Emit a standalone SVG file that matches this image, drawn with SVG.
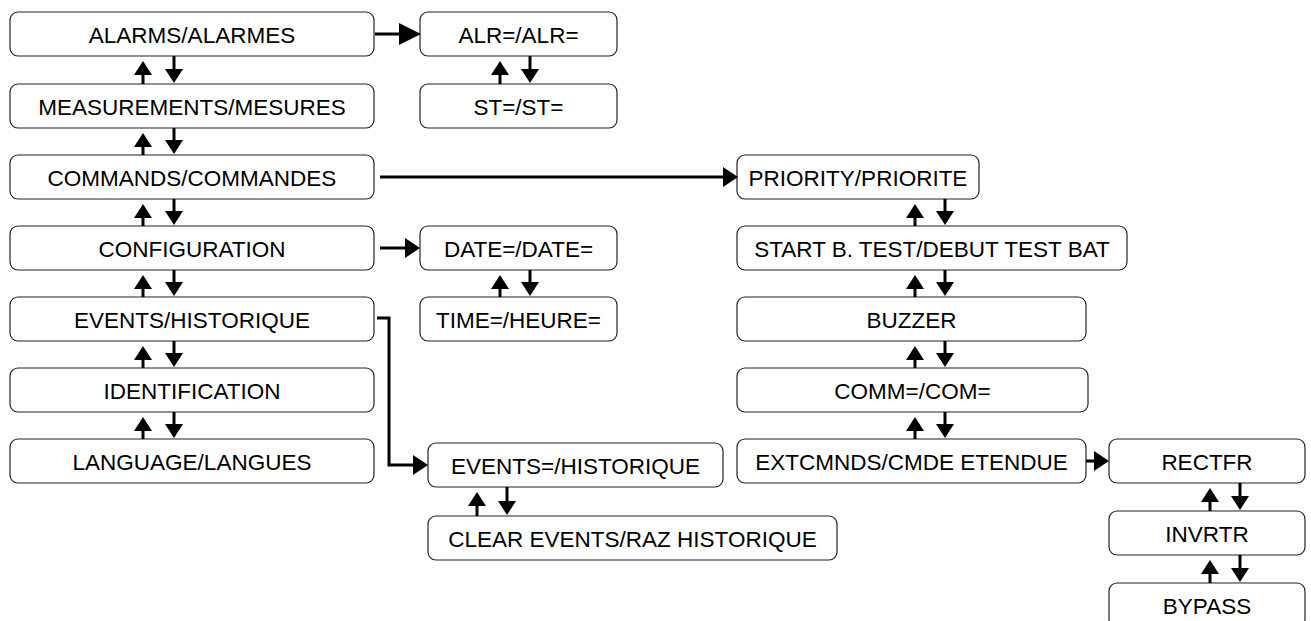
<svg xmlns="http://www.w3.org/2000/svg" width="1311" height="621" viewBox="0 0 1311 621">
<style>
.b{fill:#fff;stroke:#222;stroke-width:1.2}
.t{font-family:"Liberation Sans",Arial,sans-serif;font-size:22.5px;fill:#000;text-anchor:middle}
.c{stroke:#000;stroke-width:3;fill:none}
</style>
<defs>
<marker id="ah" viewBox="0 0 14 18" refX="1" refY="9" markerWidth="14" markerHeight="18" markerUnits="userSpaceOnUse" orient="auto"><path d="M0,0L14,9L0,18Z" fill="#000"/></marker>
<marker id="ahH" viewBox="0 0 15 20" refX="1" refY="10" markerWidth="15" markerHeight="20" markerUnits="userSpaceOnUse" orient="auto"><path d="M0,0L15,10L0,20Z" fill="#000"/></marker>
<marker id="ahB" viewBox="0 0 22 22" refX="1" refY="11" markerWidth="22" markerHeight="22" markerUnits="userSpaceOnUse" orient="auto"><path d="M0,0L22,11L0,22Z" fill="#000"/></marker>
</defs>
<rect width="1311" height="621" fill="#fff"/>
<g id="alarms"><rect class="b" x="10" y="12" width="364" height="44" rx="8"/><text class="t" x="192" y="43">ALARMS/ALARMES</text></g>
<g id="measurements"><rect class="b" x="10" y="84" width="364" height="44" rx="8"/><text class="t" x="192" y="115">MEASUREMENTS/MESURES</text></g>
<g id="commands"><rect class="b" x="10" y="155" width="364" height="44" rx="8"/><text class="t" x="192" y="186">COMMANDS/COMMANDES</text></g>
<g id="configuration"><rect class="b" x="10" y="226" width="364" height="44" rx="8"/><text class="t" x="192" y="257">CONFIGURATION</text></g>
<g id="events"><rect class="b" x="10" y="297" width="364" height="44" rx="8"/><text class="t" x="192" y="328">EVENTS/HISTORIQUE</text></g>
<g id="identification"><rect class="b" x="10" y="368" width="364" height="44" rx="8"/><text class="t" x="192" y="399">IDENTIFICATION</text></g>
<g id="language"><rect class="b" x="10" y="439" width="364" height="44" rx="8"/><text class="t" x="192" y="470">LANGUAGE/LANGUES</text></g>
<g id="alr"><rect class="b" x="420" y="12" width="197" height="44" rx="8"/><text class="t" x="518.5" y="43">ALR=/ALR=</text></g>
<g id="st"><rect class="b" x="420" y="84" width="197" height="44" rx="8"/><text class="t" x="518.5" y="115">ST=/ST=</text></g>
<g id="date"><rect class="b" x="420" y="226" width="197" height="44" rx="8"/><text class="t" x="518.5" y="257">DATE=/DATE=</text></g>
<g id="time"><rect class="b" x="420" y="297" width="197" height="44" rx="8"/><text class="t" x="518.5" y="328">TIME=/HEURE=</text></g>
<g id="eventseq"><rect class="b" x="428" y="443" width="295" height="44" rx="8"/><text class="t" x="575.5" y="474">EVENTS=/HISTORIQUE</text></g>
<g id="clear"><rect class="b" x="428" y="516" width="409" height="44" rx="8"/><text class="t" x="632.5" y="547">CLEAR EVENTS/RAZ HISTORIQUE</text></g>
<g id="priority"><rect class="b" x="737" y="155" width="242" height="44" rx="8"/><text class="t" x="858" y="186">PRIORITY/PRIORITE</text></g>
<g id="start"><rect class="b" x="737" y="226" width="390" height="44" rx="8"/><text class="t" x="932" y="257">START B. TEST/DEBUT TEST BAT</text></g>
<g id="buzzer"><rect class="b" x="737" y="297" width="349" height="44" rx="8"/><text class="t" x="911.5" y="328">BUZZER</text></g>
<g id="comm"><rect class="b" x="737" y="368" width="351" height="44" rx="8"/><text class="t" x="912.5" y="399">COMM=/COM=</text></g>
<g id="extcmnds"><rect class="b" x="737" y="439" width="349" height="44" rx="8"/><text class="t" x="911.5" y="470">EXTCMNDS/CMDE ETENDUE</text></g>
<g id="rectfr"><rect class="b" x="1109" y="439" width="196" height="44" rx="8"/><text class="t" x="1207" y="470">RECTFR</text></g>
<g id="invrtr"><rect class="b" x="1109" y="511" width="196" height="44" rx="8"/><text class="t" x="1207" y="542">INVRTR</text></g>
<g id="bypass"><rect class="b" x="1109" y="583" width="196" height="44" rx="8"/><text class="t" x="1207" y="614">BYPASS</text></g>
<g id="connectors">
<path class="c" marker-end="url(#ahB)" d="M375,34H400"/>
<path class="c" marker-end="url(#ahH)" d="M380,177H724"/>
<path class="c" marker-end="url(#ahH)" d="M380,248H406"/>
<path class="c" marker-end="url(#ahH)" d="M377,318H389V465H414"/>
<path class="c" marker-end="url(#ahH)" d="M1086,461H1095"/>
<path class="c" marker-end="url(#ah)" d="M143,84V74"/><path class="c" marker-end="url(#ah)" d="M174,56V70"/>
<path class="c" marker-end="url(#ah)" d="M143,155V146"/><path class="c" marker-end="url(#ah)" d="M174,128V141"/>
<path class="c" marker-end="url(#ah)" d="M143,226V217"/><path class="c" marker-end="url(#ah)" d="M174,199V212"/>
<path class="c" marker-end="url(#ah)" d="M143,297V288"/><path class="c" marker-end="url(#ah)" d="M174,270V283"/>
<path class="c" marker-end="url(#ah)" d="M143,368V359"/><path class="c" marker-end="url(#ah)" d="M174,341V354"/>
<path class="c" marker-end="url(#ah)" d="M143,439V430"/><path class="c" marker-end="url(#ah)" d="M174,412V425"/>
<path class="c" marker-end="url(#ah)" d="M500,84V74"/><path class="c" marker-end="url(#ah)" d="M530,56V70"/>
<path class="c" marker-end="url(#ah)" d="M500,297V288"/><path class="c" marker-end="url(#ah)" d="M530,270V283"/>
<path class="c" marker-end="url(#ah)" d="M477,516V505"/><path class="c" marker-end="url(#ah)" d="M507,487V502"/>
<path class="c" marker-end="url(#ah)" d="M915,226V217"/><path class="c" marker-end="url(#ah)" d="M945,199V212"/>
<path class="c" marker-end="url(#ah)" d="M915,297V288"/><path class="c" marker-end="url(#ah)" d="M945,270V283"/>
<path class="c" marker-end="url(#ah)" d="M915,368V359"/><path class="c" marker-end="url(#ah)" d="M945,341V354"/>
<path class="c" marker-end="url(#ah)" d="M915,439V430"/><path class="c" marker-end="url(#ah)" d="M945,412V425"/>
<path class="c" marker-end="url(#ah)" d="M1210,511V501"/><path class="c" marker-end="url(#ah)" d="M1240,483V497"/>
<path class="c" marker-end="url(#ah)" d="M1210,583V573"/><path class="c" marker-end="url(#ah)" d="M1240,555V569"/>
</g>
</svg>
